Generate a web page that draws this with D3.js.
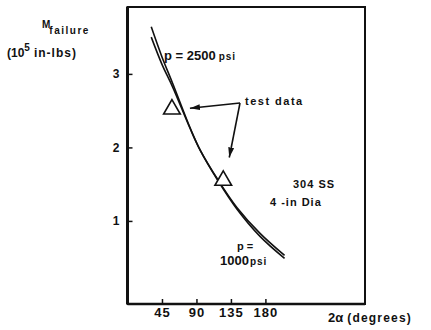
<!DOCTYPE html>
<html>
<head>
<meta charset="utf-8">
<script src="https://cdn.jsdelivr.net/npm/d3@7"></script>
<style>
  body { margin: 0; background: #fff; }
  text { font-family: 'Liberation Sans', Arial, sans-serif; font-weight: bold; fill: #111; }
</style>
</head>
<body>
<svg id="chart"></svg>
<script>
// DATA
const angles = [31, 45, 59, 82, 95, 118, 143, 173, 205]
const m2500 = [3.64, 3.23, 2.87, 2.26, 1.96, 1.55, 1.16, 0.79, 0.49]
const m1000 = [3.50, 3.13, 2.82, 2.25, 1.96, 1.56, 1.18, 0.83, 0.53]
const testAngles = [58, 125]
const testMoments = [2.52, 1.55]
const xTicks = [45, 90, 135, 180]
const yTicks = [1, 2, 3]

const width = 431
const height = 330
const svg = d3.select('#chart').attr('width', width).attr('height', height)

// SCALES
const x = d3.scaleLinear().domain([0, 310]).range([127.5, 365])
const y = d3.scaleLinear().domain([-0.13, 3.91]).range([304, 7])

// FRAME
svg.append('rect')
  .attr('x', x(0)).attr('y', y(3.91))
  .attr('width', x(310) - x(0)).attr('height', y(-0.13) - y(3.91))
  .attr('fill', 'none').attr('stroke', '#111').attr('stroke-width', 2)
svg.append('line')
  .attr('x1', x(0)).attr('x2', x(0)).attr('y1', y(3.91)).attr('y2', y(-0.13))
  .attr('stroke', '#111').attr('stroke-width', 3)
svg.append('line')
  .attr('x1', x(0)).attr('x2', x(310)).attr('y1', y(-0.13)).attr('y2', y(-0.13))
  .attr('stroke', '#111').attr('stroke-width', 2.5)

// AXES
const yAxis = svg.append('g')
  .attr('transform', `translate(${x(0)},0)`)
  .call(d3.axisLeft(y).tickValues(yTicks).tickFormat(d3.format('d'))
    .tickSizeInner(-5).tickSizeOuter(0).tickPadding(8))
yAxis.select('.domain').remove()
yAxis.selectAll('line').attr('stroke', '#111').attr('stroke-width', 1.5)
yAxis.selectAll('text').style('font-size', '12px').attr('font-family', null).attr('font-size', null)

const xAxis = svg.append('g')
  .attr('transform', `translate(0,${y(-0.13)})`)
  .call(d3.axisBottom(x).tickValues(xTicks).tickSizeInner(-5).tickSizeOuter(0).tickPadding(4))
xAxis.select('.domain').remove()
xAxis.selectAll('line').attr('stroke', '#111').attr('stroke-width', 1.5)
xAxis.selectAll('text').style('font-size', '13px').style('letter-spacing', '1px')
  .attr('font-family', null).attr('font-size', null)

// AXIS TITLES
const yt = svg.append('text').attr('x', 42).attr('y', 28).style('font-size', '10px')
yt.append('tspan').text('M')
yt.append('tspan').attr('dy', 6).attr('dx', -1).style('font-size', '10px')
  .style('letter-spacing', '1.5px').text('failure')
const yu = svg.append('text').attr('x', 7).attr('y', 57).style('font-size', '12px')
yu.append('tspan').text('(10')
yu.append('tspan').attr('dy', -6).style('font-size', '10px').text('5')
yu.append('tspan').attr('dy', 6).attr('dx', 4).style('letter-spacing', '1px').text('in-lbs)')

const xt = svg.append('text').attr('x', 328).attr('y', 322).style('font-size', '12px')
xt.append('tspan').style('font-size', '13px').text('2α')
xt.append('tspan').attr('dx', 4).style('letter-spacing', '1.2px').text('(degrees)')

// CURVES
const line = d3.line()
  .x((d, i) => x(angles[i]))
  .y(d => y(d))
  .curve(d3.curveCatmullRom)
const series = [m2500, m1000]
svg.selectAll('.curve').data(series).enter().append('path')
  .attr('class', 'curve')
  .attr('d', d => line(d))
  .attr('fill', 'none')
  .attr('stroke', '#111')
  .attr('stroke-width', 1.6)

// TEST DATA
const tri = d3.symbol().type(d3.symbolTriangle).size(120)
svg.selectAll('.pt').data(testAngles).enter().append('path')
  .attr('class', 'pt')
  .attr('transform', (d, i) => `translate(${x(d)},${y(testMoments[i])})`)
  .attr('d', tri)
  .attr('fill', '#fff')
  .attr('stroke', '#111')
  .attr('stroke-width', 1.6)

// ARROWS
svg.append('defs').append('marker')
  .attr('id', 'head').attr('viewBox', '0 0 10 6')
  .attr('refX', 10).attr('refY', 3)
  .attr('markerWidth', 10).attr('markerHeight', 6)
  .attr('markerUnits', 'userSpaceOnUse').attr('orient', 'auto')
  .append('path').attr('d', 'M0,0L10,3L0,6Z').attr('fill', '#111')
const vx = 240, vy = 103
const tips = [
  [x(testAngles[0]) + 18, y(testMoments[0]) - 1],
  [x(testAngles[1]) + 6, y(testMoments[1]) - 23]
]
tips.forEach(t => {
  svg.append('line')
    .attr('x1', vx).attr('y1', vy).attr('x2', t[0]).attr('y2', t[1])
    .attr('stroke', '#111').attr('stroke-width', 1.6)
    .attr('marker-end', 'url(#head)')
})

// LABELS
svg.append('text').attr('x', 245).attr('y', 105).style('font-size', '11px')
  .style('letter-spacing', '1.5px').text('test data')

const l1 = svg.append('text').attr('x', 164).attr('y', 60).style('font-size', '13px')
l1.append('tspan').text('p = 2500')
l1.append('tspan').attr('dx', 3).style('font-size', '10px').style('letter-spacing', '1px').text('psi')

const l2 = svg.append('text').attr('x', 237).attr('y', 250).style('font-size', '11px')
l2.text('p =')
const l3 = svg.append('text').attr('x', 220).attr('y', 265).style('font-size', '13px')
l3.append('tspan').text('1000')
l3.append('tspan').attr('dx', 1).style('font-size', '10px').style('letter-spacing', '1px').text('psi')

svg.append('text').attr('x', 293).attr('y', 188).style('font-size', '11px')
  .style('letter-spacing', '1px').text('304 SS')
svg.append('text').attr('x', 270).attr('y', 206).style('font-size', '11px')
  .style('letter-spacing', '1px').text('4 -in Dia')
</script>
</body>
</html>
